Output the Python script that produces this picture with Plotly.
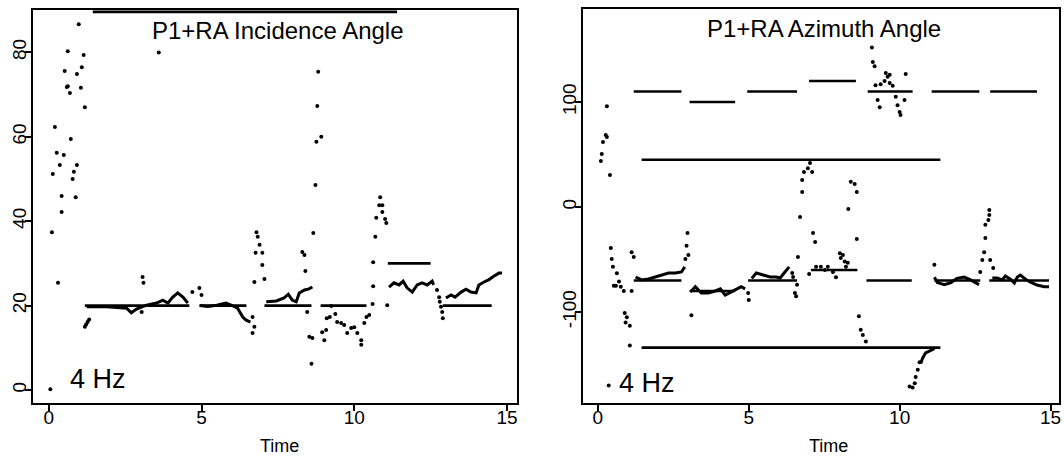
import plotly.graph_objects as go

# ---------------- Left panel: P1+RA Incidence Angle ----------------
inc_dot_t = [0.98, 0.62, 1.14, 0.52, 0.92, 1.08, 0.59, 0.62, 0.69, 1.05, 1.18, 0.20, 0.72, 0.26, 0.49,
             0.36, 0.92, 0.13, 0.82, 0.78, 0.42, 0.88, 0.42, 3.60, 0.10, 0.30, 0.05, 3.07, 3.10, 3.04,
             4.70, 4.93, 5.00, 1.18, 1.22, 1.27, 1.32,
             6.80, 6.84, 6.90, 6.77, 6.99, 6.99, 6.73, 7.06, 6.67, 6.73, 6.67,
             8.30, 8.37, 8.40, 8.66, 8.73, 8.46, 8.53, 8.63, 8.60, 8.82, 8.79, 8.92, 8.76,
             9.25, 9.10, 9.20, 9.38, 8.95, 9.02, 9.08, 9.44, 9.57, 9.67, 9.77, 9.90, 10.00, 10.10,
             10.23, 10.23, 10.33, 10.40, 10.49,
             10.60, 10.62, 10.62, 10.69, 10.72, 10.82, 10.92, 10.85, 10.92, 11.01, 11.05, 11.08,
             12.71, 12.78, 12.80, 12.84, 12.88, 12.90]
inc_dot_v = [86.7, 80.3, 79.4, 75.6, 74.9, 76.5, 71.8, 72.0, 70.4, 71.6, 67.0, 62.3, 59.5, 56.2, 55.7,
             53.3, 53.3, 51.2, 51.7, 50.0, 46.0, 45.7, 42.2, 80.0, 37.4, 25.4, 0.2, 26.8, 25.4, 18.5,
             23.2, 24.2, 22.5, 15.0, 15.5, 16.1, 16.7,
             37.4, 36.3, 34.4, 32.5, 32.5, 29.6, 25.6, 26.3, 13.5, 15.0, 17.3,
             32.7, 32.0, 28.2, 37.2, 48.6, 18.5, 12.6, 12.3, 6.2, 75.4, 67.3, 60.0, 58.8,
             19.9, 17.0, 17.3, 18.0, 13.7, 11.8, 14.2, 16.1, 15.9, 15.4, 13.5, 14.7, 14.9, 13.5,
             11.8, 10.7, 15.9, 17.3, 17.8,
             20.4, 24.6, 30.3, 36.3, 40.8, 43.8, 43.8, 45.7, 42.2, 40.5, 39.6, 20.1,
             23.7, 22.0, 20.9, 19.7, 18.5, 17.0]

inc_runA_t = [1.24, 1.50, 1.90, 2.32, 2.55, 2.70, 2.87, 3.20, 3.53, 3.73, 3.90, 4.06, 4.22, 4.39, 4.55]
inc_runA_v = [19.7, 19.8, 19.7, 19.4, 19.4, 18.3, 19.2, 20.1, 20.6, 21.3, 20.6, 22.0, 23.0, 22.0, 20.6]
inc_runB_t = [4.95, 5.20, 5.50, 5.80, 5.95, 6.18, 6.35, 6.45, 6.60]
inc_runB_v = [20.0, 19.8, 20.1, 20.6, 20.2, 19.4, 17.3, 16.6, 16.1]
inc_runC_t = [7.12, 7.45, 7.70, 7.84, 7.97, 8.10, 8.20, 8.37, 8.50, 8.63]
inc_runC_v = [20.9, 21.1, 21.8, 22.7, 21.3, 20.9, 23.0, 23.7, 23.9, 24.4]
inc_runD_t = [11.14, 11.30, 11.47, 11.60, 11.73, 11.90, 12.06, 12.22, 12.39, 12.55, 12.60]
inc_runD_v = [24.4, 25.4, 24.9, 25.8, 24.2, 23.2, 24.9, 25.4, 24.9, 25.8, 24.9]
inc_runE_t = [13.00, 13.17, 13.30, 13.50, 13.66, 13.82, 13.99, 14.08, 14.25, 14.40, 14.58, 14.74, 14.84]
inc_runE_v = [21.8, 22.5, 22.0, 23.2, 23.9, 23.2, 23.0, 24.9, 25.6, 26.1, 27.0, 27.7, 27.7]

inc_fit_start = [1.44, 1.18, 4.93, 7.06, 8.90, 11.10, 12.90]
inc_fit_end = [11.40, 4.60, 6.47, 8.60, 10.40, 12.50, 14.50]
inc_fit_level = [89.6, 20, 20, 20, 20, 30, 20]

# ---------------- Right panel: P1+RA Azimuth Angle ----------------
az_dot_t = [0.30, 0.26, 0.30, 0.17, 0.13, 0.10, 0.40,
            0.43, 0.46, 0.50, 0.63, 0.70, 0.53, 0.60, 0.76, 0.86, 1.12, 1.12, 1.19,
            0.89, 0.96, 0.92, 1.06, 1.06, 0.36,
            2.90, 3.00, 2.94, 2.97, 3.10, 4.98, 5.00,
            6.44, 6.47, 6.60, 6.53, 6.57,
            6.63, 6.70, 6.77, 6.77, 6.83, 6.96, 7.03, 7.10, 7.13, 7.20, 7.23, 7.39, 7.00,
            7.52, 7.62, 7.79, 7.89, 8.02, 8.12, 8.05, 8.18, 8.22, 8.28, 8.58,
            8.38, 8.51, 8.58, 8.30,
            8.65, 8.71, 8.78, 8.88,
            9.08, 9.11, 9.17, 9.54, 9.60, 9.67, 10.20, 9.20, 9.37, 9.50, 9.67, 9.77, 9.27, 9.34,
            9.87, 9.93, 10.00, 10.03, 10.16,
            10.33, 10.43, 10.50, 10.53, 10.60, 10.66,
            11.15,
            12.67, 12.74, 12.80, 12.84, 12.84, 12.94, 12.97, 12.97, 13.00, 13.10]
az_dot_v = [96, 68.6, 66.7, 62, 50.5, 43.8, 30.5,
            -39, -49.5, -57, -63, -71, -75, -75, -76, -80, -80, -43, -47.6,
            -101, -105, -110, -113, -132, -170,
            -49.5, -45.7, -37, -24.8, -103, -82, -88.6,
            -62.9, -66.7, -74, -82, -85,
            -47.6, -9.5, 14.3, 25.7, 33.3, 37, 42, 33.3, -24.8, -33.3, -57, -57, -63.8,
            -60, -57, -62, -67, -44, -45.7, -48.6, -52, -57, -53, -30.5,
            24, 22, 14.3, -2,
            -104, -117, -122, -128,
            152, 138, 134, 127.6, 124, 126, 126.7, 116, 117, 120, 118, 115.6, 102, 95,
            105, 97, 90.5, 87.6, 102,
            -171, -172, -168, -162, -155, -148,
            -55,
            -62, -50.5, -43, -29.5, -17, -12.4, -7.6, -2.9, -50.5, -58]

az_runA_t = [1.25, 1.45, 1.68, 1.91, 2.11, 2.34, 2.57, 2.77, 2.88]
az_runA_v = [-66.7, -69.5, -68.6, -66.7, -64.8, -62.9, -62.9, -61.9, -57]
az_runB_t = [3.07, 3.23, 3.43, 3.66, 3.89, 4.06, 4.22, 4.39, 4.55, 4.75, 4.88]
az_runB_v = [-81, -76, -82, -82, -80, -78, -84, -81, -79, -76, -78]
az_runC_t = [5.10, 5.25, 5.48, 5.71, 5.91, 6.04, 6.20, 6.34]
az_runC_v = [-68, -62.9, -64.8, -66.7, -66.7, -67.6, -61.9, -57]
az_runD_t = [10.70, 10.76, 10.86, 10.99, 11.15]
az_runD_v = [-149, -144, -139, -137, -135]
az_runE_t = [11.15, 11.25, 11.48, 11.70, 11.90, 12.14, 12.35, 12.50, 12.63]
az_runE_v = [-67, -72, -74, -72, -68, -66.7, -69.5, -72, -74]
az_runF_t = [13.07, 13.23, 13.40, 13.50, 13.66, 13.80, 13.90, 14.00, 14.16, 14.32, 14.55, 14.79, 14.95]
az_runF_v = [-67.6, -67.6, -69.5, -65.7, -68.6, -72.4, -66.7, -64.8, -68.6, -71.4, -74.3, -76, -76]

az_fit_start = [1.19, 3.04, 4.95, 7.00, 8.94, 11.06, 13.00, 1.45, 1.45, 1.19, 3.04, 4.98, 7.06, 8.90, 11.15, 12.97]
az_fit_end = [2.77, 4.55, 6.60, 8.55, 10.43, 12.64, 14.55, 11.35, 11.35, 2.77, 4.55, 6.60, 8.60, 10.40, 12.67, 14.95]
az_fit_level = [110, 100, 110, 120, 110, 110, 110, 45, -134, -70, -80, -70, -60, -70, -70, -70]

x_ticks = [0, 5, 10, 15]
x_tick_text = ["0", "5", "10", "15"]
inc_y_ticks = [0, 20, 40, 60, 80]
inc_y_tick_text = ["0", "20", "40", "60", "80"]
az_y_ticks = [-100, 0, 100]
az_y_tick_text = ["-100", "0", "100"]


def segments(starts, ends, levels):
    xs, ys = [], []
    for s, e, l in zip(starts, ends, levels):
        xs += [s, e, None]
        ys += [l, l, None]
    return xs, ys


def runs(*pairs):
    xs, ys = [], []
    for t, v in pairs:
        xs += list(t) + [None]
        ys += list(v) + [None]
    return xs, ys


fig = go.Figure()

# left panel
fx, fy = segments(inc_fit_start, inc_fit_end, inc_fit_level)
fig.add_trace(go.Scatter(x=fx, y=fy, mode="lines", line=dict(color="black", width=2.6),
                         xaxis="x", yaxis="y"))
rx, ry = runs((inc_runA_t, inc_runA_v), (inc_runB_t, inc_runB_v), (inc_runC_t, inc_runC_v),
              (inc_runD_t, inc_runD_v), (inc_runE_t, inc_runE_v))
fig.add_trace(go.Scatter(x=rx, y=ry, mode="lines", line=dict(color="black", width=3),
                         xaxis="x", yaxis="y"))
fig.add_trace(go.Scatter(x=inc_dot_t, y=inc_dot_v, mode="markers",
                         marker=dict(color="black", size=4), xaxis="x", yaxis="y"))

# right panel
fx, fy = segments(az_fit_start, az_fit_end, az_fit_level)
fig.add_trace(go.Scatter(x=fx, y=fy, mode="lines", line=dict(color="black", width=2.6),
                         xaxis="x2", yaxis="y2"))
rx, ry = runs((az_runA_t, az_runA_v), (az_runB_t, az_runB_v), (az_runC_t, az_runC_v),
              (az_runD_t, az_runD_v), (az_runE_t, az_runE_v), (az_runF_t, az_runF_v))
fig.add_trace(go.Scatter(x=rx, y=ry, mode="lines", line=dict(color="black", width=3),
                         xaxis="x2", yaxis="y2"))
fig.add_trace(go.Scatter(x=az_dot_t, y=az_dot_v, mode="markers",
                         marker=dict(color="black", size=4), xaxis="x2", yaxis="y2"))

W, H = 1064, 458
tick_font = dict(family="Liberation Sans Narrow, Arial Narrow, Liberation Sans, Arial", size=19, color="black")
axis_common = dict(showline=True, linecolor="black", linewidth=2, mirror=True, ticks="outside",
                   ticklen=6, tickwidth=1.5, tickcolor="black", showgrid=False, zeroline=False,
                   tickfont=tick_font)

fig.update_layout(
    width=W, height=H, margin=dict(l=0, r=0, t=0, b=0), showlegend=False,
    paper_bgcolor="white", plot_bgcolor="white",
    xaxis=dict(domain=[33 / W, 518 / W], range=[-0.52, 15.33], tickvals=x_ticks, ticktext=x_tick_text,
               anchor="y", ticklabelstandoff=-10, **axis_common),
    yaxis=dict(domain=[1 - 403 / H, 1 - 10 / H], range=[-3.08, 90.05], tickvals=inc_y_ticks,
               ticktext=inc_y_tick_text, tickangle=-90, anchor="x", ticklabelstandoff=-9, **axis_common),
    xaxis2=dict(domain=[584 / W, 1061 / W], range=[-0.495, 15.28], tickvals=x_ticks, ticktext=x_tick_text,
                anchor="y2", ticklabelstandoff=-10, **axis_common),
    yaxis2=dict(domain=[1 - 403 / H, 1 - 9 / H], range=[-186.7, 188.6], tickvals=az_y_ticks,
                ticktext=az_y_tick_text, tickangle=-90, anchor="x2", ticklabelstandoff=-9, **axis_common),
)

txt_font = "Liberation Sans, Arial, Helvetica, sans-serif"


def ann(text, px, py, size):
    fig.add_annotation(text=text, x=px / W, y=1 - py / H, xref="paper", yref="paper",
                       xanchor="center", yanchor="middle", showarrow=False,
                       font=dict(family=txt_font, size=size, color="black"))


ann("P1+RA Incidence Angle", 279, 31, 24)
ann("P1+RA Azimuth Angle", 826, 29, 24)
ann("4 Hz", 98, 379, 27)
ann("4 Hz", 648, 383, 27)
ann("Time", 280, 446, 18)
ann("Time", 830, 446, 18)

fig.write_html("out.html", config={"displayModeBar": False},
               post_script="document.body.style.margin='0';document.body.style.overflow='hidden';")
